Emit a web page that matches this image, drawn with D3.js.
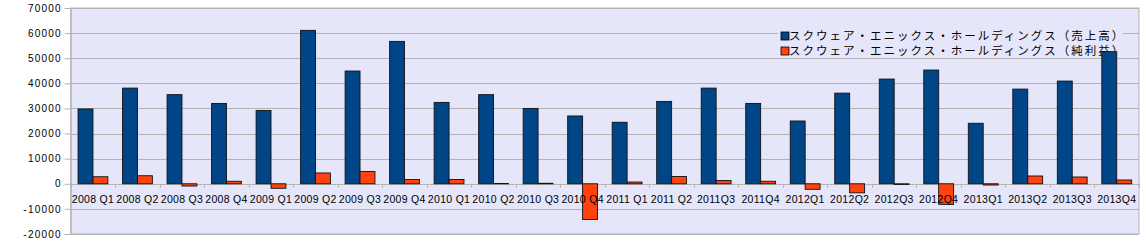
<!DOCTYPE html>
<html>
<head>
<meta charset="utf-8">
<script src="https://cdn.jsdelivr.net/npm/d3@7"></script>
<style>
  body { margin: 0; background: #fff; }
  svg { display: block; }
</style>
</head>
<body>
<div id="chart"></div>
<script>
// quarterly figures, million yen
var quarters = ['2008 Q1','2008 Q2','2008 Q3','2008 Q4','2009 Q1','2009 Q2','2009 Q3','2009 Q4',
                '2010 Q1','2010 Q2','2010 Q3','2010 Q4','2011 Q1','2011 Q2','2011Q3','2011Q4',
                '2012Q1','2012Q2','2012Q3','2012Q4','2013Q1','2013Q2','2013Q3','2013Q4'];
var sales = [29800, 38100, 35500, 32000, 29200, 61100, 44900, 56700,
             32400, 35500, 30000, 27000, 24500, 32800, 38100, 32000,
             25000, 36100, 41700, 45300, 24100, 37700, 40900, 52600];
var netIncome = [2800, 3200, -900, 1000, -1800, 4300, 4900, 1700,
                 1700, 100, 200, -14200, 700, 2900, 1300, 1000,
                 -2200, -3600, -300, -8200, -500, 3100, 2700, 1500];
var seriesNames = ['スクウェア・エニックス・ホールディングス（売上高）',
                   'スクウェア・エニックス・ホールディングス（純利益）'];
var colors = ['#004586', '#ff420e'];
var yTicks = [-20000, -10000, 0, 10000, 20000, 30000, 40000, 50000, 60000, 70000];

var W = 1146, H = 249;
var plotL = 70.7, plotR = 1139, plotT = 8, plotB = 234;

var svg = d3.select('#chart').append('svg')
    .attr('width', W)
    .attr('height', H);

var y = d3.scaleLinear().domain([-20000, 70000]).range([plotB, plotT]);

var x0 = d3.scaleBand()
    .domain(quarters)
    .range([plotL, plotR])
    .paddingInner(0.33)
    .paddingOuter(0.165);

var x1 = d3.scaleBand()
    .domain([0, 1])
    .range([0, x0.bandwidth()]);

// plot background
svg.append('rect')
    .attr('x', plotL).attr('y', plotT)
    .attr('width', plotR - plotL).attr('height', plotB - plotT)
    .attr('fill', '#e6e6fa')
    .attr('stroke', '#b3b3b3');

// grid
svg.append('g').selectAll('line')
    .data(yTicks)
    .join('line')
    .attr('x1', plotL).attr('x2', plotR)
    .attr('y1', d => Math.round(y(d)) + 0.5)
    .attr('y2', d => Math.round(y(d)) + 0.5)
    .attr('stroke', '#b3b3b3');

// y axis
var yAxis = d3.axisLeft(y)
    .tickValues(yTicks)
    .tickSize(6)
    .tickPadding(3)
    .tickFormat(d => d);

var gy = svg.append('g')
    .attr('transform', `translate(${plotL},0)`)
    .call(yAxis);
gy.select('.domain').attr('stroke', '#b3b3b3');
gy.selectAll('.tick line').attr('stroke', '#b3b3b3');
gy.selectAll('.tick text')
    .attr('font-family', 'Liberation Sans, Arial, sans-serif')
    .attr('font-size', 10)
    .attr('letter-spacing', 1.2)
    .attr('fill', '#000');

// legend (drawn under the bars)
var legend = svg.append('g');
legend.append('rect')
    .attr('x', 778).attr('y', 27)
    .attr('width', 345).attr('height', 30)
    .attr('fill', '#e6e6fa');
seriesNames.forEach((name, i) => {
    var ly = 36 + i * 15;
    legend.append('rect')
        .attr('x', 781).attr('y', ly - 4)
        .attr('width', 8).attr('height', 8)
        .attr('fill', colors[i])
        .attr('stroke', '#000')
        .attr('stroke-width', 0.8);
    legend.append('text')
        .attr('x', 789).attr('y', ly)
        .attr('dy', '0.36em')
        .attr('font-family', 'Noto Sans CJK JP, sans-serif')
        .attr('font-size', 11.5)
        .attr('letter-spacing', 2)
        .attr('fill', '#000')
        .text(name);
});

// x ticks along zero line
svg.append('g').selectAll('line')
    .data(d3.range(quarters.length + 1))
    .join('line')
    .attr('x1', d => Math.round(plotL + d * x0.step()) + 0.5)
    .attr('x2', d => Math.round(plotL + d * x0.step()) + 0.5)
    .attr('y1', y(0)).attr('y2', y(0) + 4)
    .attr('stroke', '#b3b3b3');

// bars
var groups = svg.append('g').selectAll('g')
    .data(quarters)
    .join('g')
    .attr('transform', d => `translate(${x0(d)},0)`);

groups.selectAll('rect')
    .data((d, i) => [sales[i], netIncome[i]])
    .join('rect')
    .attr('x', (d, j) => x1(j))
    .attr('width', x1.bandwidth())
    .attr('y', d => y(Math.max(0, d)))
    .attr('height', d => Math.abs(y(d) - y(0)))
    .attr('fill', (d, j) => colors[j])
    .attr('stroke', '#111')
    .attr('stroke-width', 0.9);

// category labels
svg.append('g').selectAll('text')
    .data(quarters)
    .join('text')
    .attr('x', d => x0(d) + x0.bandwidth() / 2)
    .attr('y', 203)
    .attr('text-anchor', 'middle')
    .attr('font-family', 'Liberation Sans, Arial, sans-serif')
    .attr('font-size', 10.5)
    .attr('letter-spacing', 0.3)
    .attr('fill', '#000')
    .text(d => d);
</script>
</body>
</html>
